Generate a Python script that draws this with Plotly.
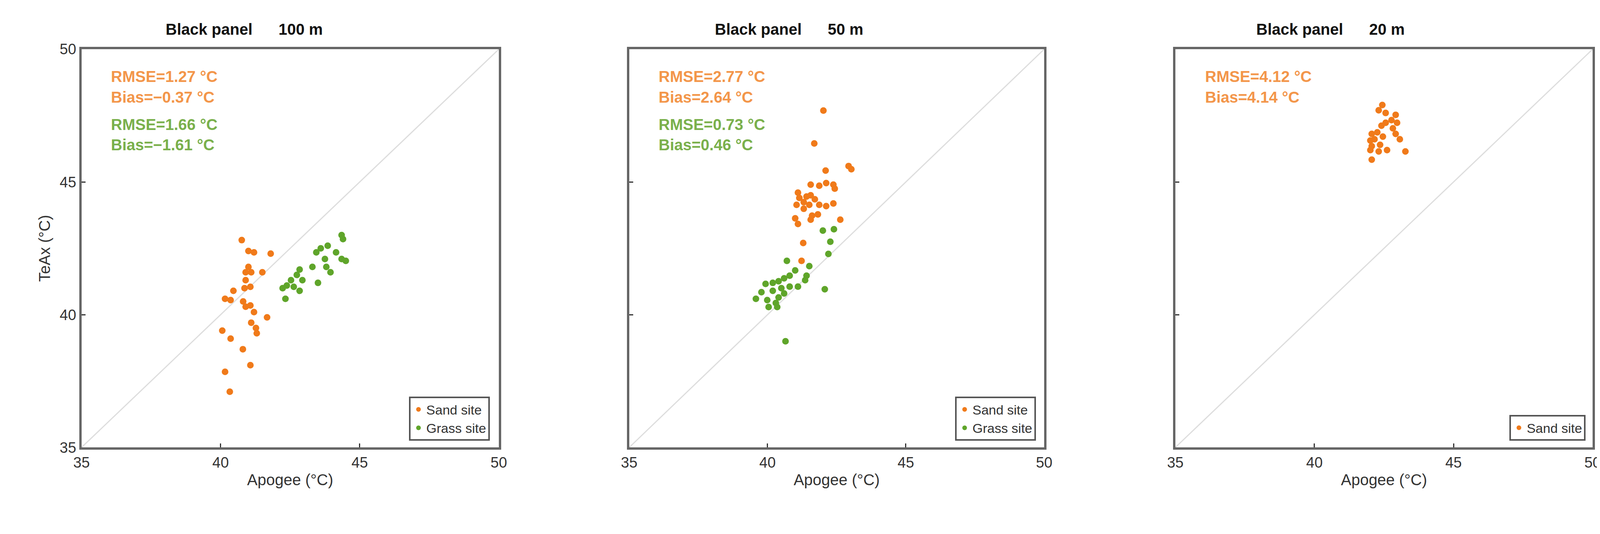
import plotly.graph_objects as go

# Panel 1 (100 m)
sand100_x = [40.76,41.0,41.2,41.8,41.0,40.9,41.1,41.5,40.9,41.07,40.86,40.46,40.16,40.36,40.81,40.9,41.07,41.2,41.67,41.1,41.27,41.3,40.06,40.36,40.8,41.07,40.16,40.33]
sand100_y = [42.81,42.4,42.35,42.3,41.8,41.6,41.6,41.6,41.3,41.05,41.0,40.9,40.6,40.55,40.5,40.3,40.35,40.1,39.9,39.7,39.5,39.3,39.4,39.1,38.7,38.1,37.85,37.1]
grass100_x = [44.35,44.4,43.85,43.6,43.44,44.15,44.5,44.35,43.75,43.8,43.95,43.3,42.84,42.74,42.94,43.5,42.53,42.38,42.63,42.23,42.84,42.33]
grass100_y = [43.0,42.85,42.6,42.5,42.35,42.35,42.03,42.1,42.1,41.8,41.6,41.8,41.7,41.5,41.3,41.2,41.3,41.1,41.05,41.0,40.9,40.6]
# Panel 2 (50 m)
sand50_x = [42.02,41.69,42.93,43.03,42.1,41.56,41.87,42.12,42.38,42.43,41.1,41.15,41.41,41.56,41.71,41.31,41.51,41.87,42.12,42.38,41.05,41.31,41.0,41.1,41.56,41.82,41.61,42.63,41.29,41.23]
sand50_y = [47.69,46.45,45.6,45.48,45.43,44.9,44.86,44.96,44.9,44.75,44.6,44.4,44.45,44.5,44.35,44.24,44.14,44.14,44.09,44.19,44.14,43.99,43.63,43.42,43.58,43.78,43.73,43.58,42.7,42.03]
grass50_x = [42.0,42.4,42.27,42.2,40.7,41.51,41.0,40.8,40.6,40.4,40.19,39.93,41.41,41.36,41.1,40.8,40.5,40.19,40.6,40.4,39.78,39.58,39.99,40.3,40.04,40.35,42.07,40.65]
grass50_y = [43.17,43.22,42.75,42.29,42.03,41.83,41.67,41.47,41.37,41.26,41.2,41.16,41.47,41.3,41.06,41.06,41.0,40.9,40.8,40.65,40.85,40.6,40.55,40.44,40.29,40.29,40.96,39.0]
# Panel 3 (20 m)
sand20_x = [42.44,42.31,42.56,42.92,42.77,42.56,42.41,42.97,42.82,42.92,42.26,42.06,42.16,42.46,42.01,43.07,42.36,42.06,42.01,42.31,42.61,43.27,42.06]
sand20_y = [47.9,47.7,47.6,47.53,47.33,47.23,47.12,47.23,47.02,46.81,46.87,46.81,46.61,46.71,46.56,46.61,46.4,46.35,46.2,46.15,46.2,46.15,45.84]

titles = ["Black panel      100 m", "Black panel      50 m", "Black panel      20 m"]
stats = [
    [("RMSE=1.27 °C", "o"), ("Bias=\u22120.37 °C", "o"), ("RMSE=1.66 °C", "g"), ("Bias=\u22121.61 °C", "g")],
    [("RMSE=2.77 °C", "o"), ("Bias=2.64 °C", "o"), ("RMSE=0.73 °C", "g"), ("Bias=0.46 °C", "g")],
    [("RMSE=4.12 °C", "o"), ("Bias=4.14 °C", "o")],
]
ticks = [35, 40, 45, 50]

ORANGE = "#F07A1A"
GREEN = "#5FA52A"
TXT = {"o": "#F3964A", "g": "#7AB04C"}
W, H = 4184, 1368
FW, FH = 4150, 1345
FONT = "Liberation Sans"

xdoms = [(183 / W, 1271 / W), (1611 / W, 2693 / W), (3035 / W, 4123 / W)]
ydom = (1 - 1173 / H, 1 - 102 / H)
title_cx = [607, 2028, 3439]
legend_right = [1248, 2672, 4105]

fig = go.Figure()
series = [
    [(sand100_x, sand100_y, "Sand site", ORANGE), (grass100_x, grass100_y, "Grass site", GREEN)],
    [(sand50_x, sand50_y, "Sand site", ORANGE), (grass50_x, grass50_y, "Grass site", GREEN)],
    [(sand20_x, sand20_y, "Sand site", ORANGE)],
]
for i in range(3):
    xa = "x" if i == 0 else f"x{i+1}"
    ya = "y" if i == 0 else f"y{i+1}"
    lg = "legend" if i == 0 else f"legend{i+1}"
    fig.add_trace(go.Scatter(x=[35, 50], y=[35, 50], mode="lines", xaxis=xa, yaxis=ya,
                             line=dict(color="#DDDDDD", width=3), showlegend=False, hoverinfo="skip"))
    for sx, sy, name, col in series[i]:
        fig.add_trace(go.Scatter(x=sx, y=sy, mode="markers", name=name, xaxis=xa, yaxis=ya, legend=lg,
                                 marker=dict(color=col, size=17, symbol="circle")))
    axcommon = dict(range=[35, 50], tickvals=ticks, ticks="inside", ticklen=10, tickwidth=3,
                    tickcolor="#333", showline=True, mirror=True, linecolor="#666", linewidth=6,
                    showgrid=False, zeroline=False, tickfont=dict(size=38, color="#333", family=FONT))
    fig.layout[("xaxis" if i == 0 else f"xaxis{i+1}")] = go.layout.XAxis(
        domain=list(xdoms[i]), anchor=ya,
        title=dict(text="Apogee (°C)", font=dict(size=40, color="#333", family=FONT), standoff=12),
        **axcommon)
    fig.layout[("yaxis" if i == 0 else f"yaxis{i+1}")] = go.layout.YAxis(
        domain=list(ydom), anchor=xa, showticklabels=(i == 0),
        title=dict(text="TeAx (°C)" if i == 0 else "", font=dict(size=40, color="#333", family=FONT), standoff=14),
        **axcommon)
    fig.layout[lg] = go.layout.Legend(
        x=legend_right[i] / W, xanchor="right", y=1 - 1155 / H, yanchor="bottom",
        bgcolor="white", bordercolor="#555", borderwidth=4,
        font=dict(size=34, color="#333", family=FONT), itemsizing="constant", tracegroupgap=0)
    fig.add_annotation(text=f"<b>{titles[i]}</b>", xref="paper", yref="paper",
                       x=title_cx[i] / W, y=1 - 48 / H, xanchor="center", yanchor="middle",
                       showarrow=False, font=dict(size=40, color="#111", family=FONT))
    ys = [0.932, 0.880, 0.811, 0.760]
    for j, (t, c) in enumerate(stats[i]):
        fig.add_annotation(text=f"<b>{t}</b>", xref=f"{xa} domain", yref=f"{ya} domain",
                           x=0.069, y=ys[j], xanchor="left", yanchor="middle", showarrow=False,
                           font=dict(size=40, color=TXT[c], family=FONT))

fig.update_layout(width=FW, height=FH, margin=dict(l=0, r=0, t=0, b=0),
                  plot_bgcolor="white", paper_bgcolor="white")
fig.write_html("out.html")
